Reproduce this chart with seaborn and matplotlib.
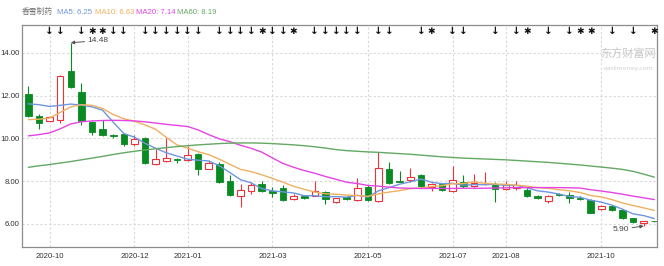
import numpy as np
import pandas as pd
import matplotlib
matplotlib.use("Agg")
import matplotlib.pyplot as plt
import seaborn as sns

# ---------------- data (weekly K-line) ----------------
stock_name = "香雪制药"
opens = [12.10, 11.07, 10.83, 10.88, 13.14, 12.16, 10.76, 10.44, 10.16, 10.19,
         9.72, 10.00, 8.79, 8.95, 9.05, 8.98, 9.26, 8.59, 8.82, 8.03,
         7.29, 7.52, 7.87, 7.54, 7.67, 7.16, 7.32, 7.32, 7.51, 7.03,
         7.27, 7.10, 7.75, 7.09, 8.55, 8.02, 8.05, 8.28, 7.74, 7.88,
         7.52, 7.98, 7.79, 7.85, 7.84, 7.63, 7.67, 7.59, 7.32, 7.08,
         7.41, 7.37, 7.20, 7.11, 6.68, 6.84, 6.65, 6.28, 6.02, 6.14]
highs = [12.44, 11.15, 11.05, 12.95, 14.48, 12.60, 10.83, 10.88, 10.22, 10.23,
         10.14, 10.05, 9.49, 10.00, 9.10, 9.67, 9.30, 8.95, 8.90, 8.27,
         7.87, 7.95, 8.03, 7.71, 7.80, 7.40, 7.35, 8.03, 7.52, 7.22,
         7.30, 8.15, 7.80, 9.37, 8.90, 8.46, 8.62, 8.34, 7.92, 7.92,
         8.71, 8.30, 8.35, 8.43, 7.95, 8.00, 8.03, 7.67, 7.36, 7.35,
         7.45, 7.50, 7.30, 7.15, 6.88, 6.88, 6.70, 6.30, 6.16, 6.16]
lows = [11.00, 10.46, 10.80, 10.72, 12.35, 10.61, 10.18, 10.13, 10.00, 9.67,
        9.64, 8.79, 8.74, 8.90, 8.85, 8.95, 8.30, 8.55, 7.92, 7.33,
        6.81, 7.40, 7.50, 7.24, 7.08, 7.10, 7.18, 7.30, 6.92, 7.00,
        7.12, 7.08, 7.06, 7.03, 7.88, 7.95, 7.98, 7.70, 7.53, 7.55,
        7.48, 7.67, 7.74, 7.80, 7.03, 7.60, 7.60, 7.28, 7.15, 7.00,
        7.33, 7.00, 7.12, 6.50, 6.64, 6.60, 6.22, 6.02, 5.90, 6.08]
closes = [11.04, 10.72, 11.00, 12.91, 12.39, 10.80, 10.30, 10.18, 10.13, 9.72,
          9.98, 8.84, 9.02, 9.10, 8.97, 9.22, 8.59, 8.87, 7.95, 7.35,
          7.60, 7.83, 7.52, 7.43, 7.13, 7.32, 7.21, 7.52, 7.16, 7.19,
          7.16, 7.68, 7.11, 8.62, 7.92, 7.98, 8.20, 7.76, 7.88, 7.60,
          8.05, 7.76, 7.92, 7.88, 7.63, 7.80, 7.83, 7.32, 7.19, 7.32,
          7.36, 7.21, 7.15, 6.53, 6.84, 6.65, 6.27, 6.08, 6.12, 6.13]

ma5 = [11.62, 11.58, 11.50, 11.55, 11.61, 11.56, 11.48, 11.32, 10.76, 10.23,
       10.06, 9.77, 9.54, 9.33, 9.18, 9.03, 8.98, 8.95, 8.72, 8.40,
       8.07, 7.92, 7.65, 7.55, 7.50, 7.45, 7.32, 7.32, 7.27, 7.28,
       7.25, 7.34, 7.26, 7.55, 7.70, 7.86, 7.97, 8.10, 7.95, 7.88,
       7.90, 7.81, 7.84, 7.84, 7.85, 7.80, 7.81, 7.69, 7.55, 7.49,
       7.40, 7.28, 7.25, 7.11, 7.02, 6.88, 6.69, 6.47, 6.39, 6.25]
ma10 = [10.88, 10.90, 10.95, 11.22, 11.48, 11.58, 11.55, 11.40, 11.12, 10.92,
        10.81, 10.63, 10.43, 10.05, 9.70, 9.55, 9.38, 9.24, 9.03, 8.79,
        8.55, 8.45, 8.30, 8.13, 7.95, 7.76, 7.62, 7.49, 7.41, 7.39,
        7.35, 7.33, 7.29, 7.41, 7.49, 7.56, 7.65, 7.68, 7.75, 7.79,
        7.88, 7.89, 7.97, 7.90, 7.87, 7.85, 7.81, 7.77, 7.70, 7.67,
        7.60, 7.55, 7.47, 7.33, 7.26, 7.14, 6.98, 6.86, 6.75, 6.63]
ma20 = [10.12, 10.18, 10.26, 10.45, 10.68, 10.78, 10.82, 10.84, 10.85, 10.84,
        10.82, 10.78, 10.72, 10.66, 10.61, 10.56, 10.40, 10.18, 9.98, 9.85,
        9.68, 9.54, 9.36, 9.09, 8.83, 8.65, 8.50, 8.37, 8.22, 8.09,
        7.95, 7.89, 7.80, 7.77, 7.72, 7.68, 7.67, 7.66, 7.66, 7.66,
        7.66, 7.67, 7.67, 7.67, 7.68, 7.69, 7.70, 7.70, 7.70, 7.70,
        7.70, 7.69, 7.68, 7.60, 7.54, 7.47, 7.39, 7.30, 7.22, 7.14]
ma60 = [8.65, 8.72, 8.78, 8.85, 8.92, 9.00, 9.08, 9.16, 9.25, 9.33,
        9.40, 9.46, 9.52, 9.57, 9.62, 9.66, 9.70, 9.73, 9.76, 9.78,
        9.79, 9.79, 9.78, 9.76, 9.73, 9.70, 9.66, 9.61, 9.55, 9.48,
        9.43, 9.40, 9.37, 9.35, 9.32, 9.29, 9.26, 9.22, 9.18, 9.14,
        9.11, 9.08, 9.06, 9.04, 9.02, 9.00, 8.97, 8.94, 8.91, 8.88,
        8.84, 8.80, 8.76, 8.71, 8.66, 8.61, 8.55, 8.46, 8.33, 8.19]

legend_names = ["MA5", "MA10", "MA20", "MA60"]
legend_values = [6.25, 6.63, 7.14, 8.19]

month_labels = ["2020-10", "2020-12", "2021-01", "2021-03",
                "2021-05", "2021-07", "2021-08", "2021-10"]
month_weeks = [2, 10, 15, 23, 32, 40, 45, 54]
y_ticks = [6, 8, 10, 12, 14]

arrow_weeks = [2, 3, 5, 8, 9, 11, 12, 13, 14, 15, 16, 18, 19, 20, 21, 23, 24,
               27, 28, 29, 30, 31, 33, 34, 37, 40, 41, 44, 46, 49, 51, 55, 57]
star_weeks = [6, 7, 22, 25, 38, 47, 52, 53, 59]

high_label = 14.48
low_label = 5.90

# ---------------- styling ----------------
sns.set_theme(style="white")
plt.rcParams['font.family'] = ['Liberation Sans', 'Noto Sans CJK SC', 'DejaVu Sans']

RED = "#e8343a"
GREEN = "#0a8a22"
C_MA = ["#6f96e0", "#f0b060", "#e444e4", "#63a863"]
GRID = "#d8d8d8"
FS = 5.6

fig = plt.figure(figsize=(6.64, 2.66), dpi=100)
ax = fig.add_axes([22 / 664, 19 / 266, 635 / 664, 222 / 266])

n = len(closes)
x = np.arange(n)
df = pd.DataFrame({"week": x, "open": opens, "high": highs, "low": lows,
                   "close": closes, "MA5": ma5, "MA10": ma10,
                   "MA20": ma20, "MA60": ma60})
up = df["close"] >= df["open"]
width = 0.62

# wicks
ax.vlines(df.loc[up, "week"], df.loc[up, "low"], df.loc[up, "high"],
          color=RED, lw=0.8, zorder=2)
ax.vlines(df.loc[~up, "week"], df.loc[~up, "low"], df.loc[~up, "high"],
          color=GREEN, lw=0.8, zorder=2)
# bodies
h_up = np.maximum((df.loc[up, "close"] - df.loc[up, "open"]).values, 0.03)
ax.bar(df.loc[up, "week"], h_up, bottom=df.loc[up, "open"], width=width,
       facecolor="white", edgecolor=RED, lw=0.8, zorder=3)
h_dn = np.maximum((df.loc[~up, "open"] - df.loc[~up, "close"]).values, 0.03)
ax.bar(df.loc[~up, "week"], h_dn, bottom=df.loc[~up, "close"], width=width,
       facecolor=GREEN, edgecolor=GREEN, lw=0.6, zorder=3)

# moving averages
for name, col in zip(legend_names, C_MA):
    sns.lineplot(data=df, x="week", y=name, ax=ax, color=col, lw=1.0,
                 zorder=4, legend=False)

ax.set_xlim(-0.6, 59.25)
ax.set_ylim(4.92, 15.31)
ax.set_xlabel("")
ax.set_ylabel("")

# grid
for yv in y_ticks:
    ax.axhline(yv, color=GRID, lw=0.8, ls=(0, (2, 2)), zorder=1)
for xv in month_weeks:
    ax.axvline(xv, color=GRID, lw=0.8, ls=(0, (2, 2)), zorder=1)

ax.set_yticks(y_ticks)
ax.set_yticklabels([f"{v:.2f}" for v in y_ticks], fontsize=FS, color="#333333")
ax.set_xticks(month_weeks)
ax.set_xticklabels(month_labels, fontsize=FS, color="#333333")
ax.tick_params(axis="y", length=0, pad=1.5)
ax.tick_params(axis="x", length=0, pad=4)
for s in ax.spines.values():
    s.set_color("#8c8c8c")
    s.set_linewidth(0.9)

# info markers along the top
for w in arrow_weeks:
    ax.text(w, 15.02, "↓", ha="center", va="center", fontsize=7.5,
            fontweight="bold", color="#111111", family="DejaVu Sans", zorder=5)
for w in star_weeks:
    ax.text(w, 15.02, "✱", ha="center", va="center", fontsize=6.5,
            color="#111111", family="DejaVu Sans", zorder=5)

# high / low annotations
i_hi = int(np.argmax(highs))
ax.annotate(f"{high_label:.2f}", xy=(i_hi, high_label), xytext=(i_hi + 1.6, high_label + 0.1),
            fontsize=FS + 0.4, color="#444444", va="center", ha="left",
            arrowprops=dict(arrowstyle="-|>", color="#555555", lw=0.7,
                            mutation_scale=5, shrinkA=0, shrinkB=0))
i_lo = int(np.argmin(lows))
ax.annotate(f"{low_label:.2f}", xy=(i_lo, low_label), xytext=(i_lo - 1.4, low_label - 0.15),
            fontsize=FS + 0.4, color="#444444", va="center", ha="right",
            arrowprops=dict(arrowstyle="-|>", color="#555555", lw=0.7,
                            mutation_scale=5, shrinkA=0, shrinkB=0))

# watermark
ax.text(0.955, 0.87, "东方财富网", transform=ax.transAxes, ha="center", va="center",
        fontsize=8, color="#c8c8c8", family="Noto Sans CJK SC", zorder=0)
ax.text(0.955, 0.805, "eastmoney.com", transform=ax.transAxes, ha="center", va="center",
        fontsize=4.5, color="#cfcfcf", family="DejaVu Sans", zorder=0)

# header legend
fig.text(22 / 664, 1 - 12 / 266, stock_name, fontsize=FS, color="#777777",
         va="center", ha="left", family="Noto Sans CJK SC")
xs = [57, 95, 136, 177]
for xp, nm, val, col in zip(xs, legend_names, legend_values, C_MA):
    fig.text(xp / 664, 1 - 12 / 266, f"{nm}: {val:.2f}", fontsize=FS, color=col,
             va="center", ha="left")

fig.savefig("out.png", dpi=100)
